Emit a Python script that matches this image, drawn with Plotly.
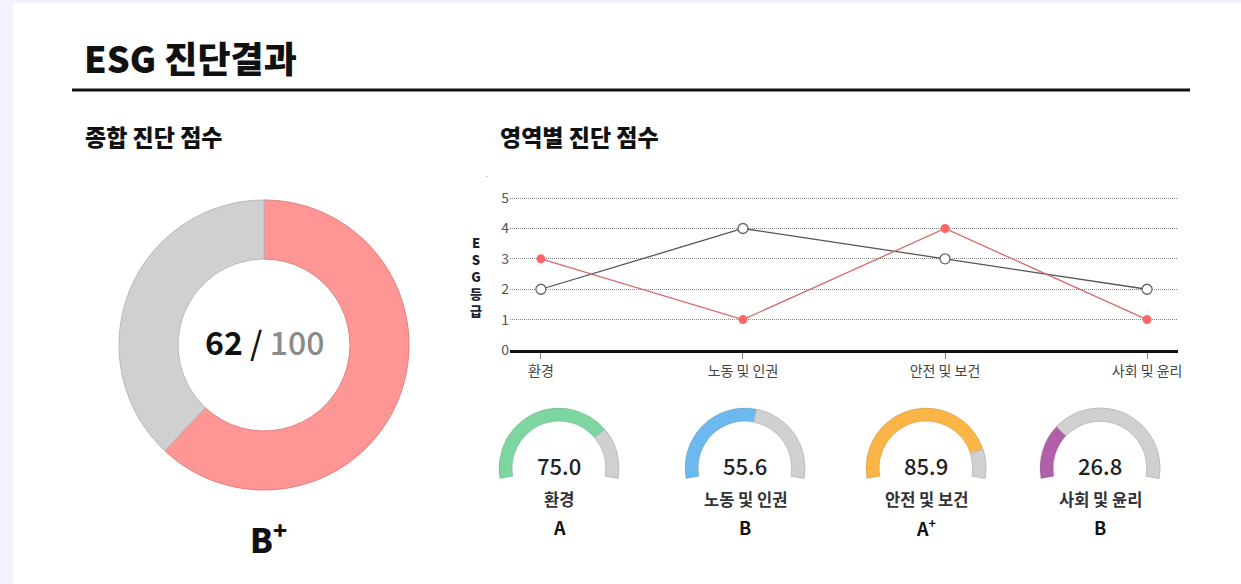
import plotly.graph_objects as go

W, H = 1241, 584
FONT = "Noto Sans CJK KR"

# ---- data ----
categories = ["환경", "노동 및 인권", "안전 및 보건", "사회 및 윤리"]
company_grade = [3, 1, 4, 1]
average_grade = [2, 4, 3, 2]
y_ticks = [0, 1, 2, 3, 4, 5]

total_score = 62
total_max = 100
total_grade = "B<sup>+</sup>"

gauge_scores = [75.0, 55.6, 85.9, 26.8]
gauge_grades = ["A", "B", "A<sup>+</sup>", "B"]
gauge_colors = ["#7dd6a0", "#6bb9ef", "#fbb446", "#b060a8"]

def px(x):
    return x / W

def py(y):
    return 1 - y / H

fig = go.Figure()

# ---- overall donut ----
cx, cy, r = 264, 345, 145
fig.add_trace(go.Pie(
    values=[total_score, total_max - total_score],
    labels=["점수", "잔여"],
    sort=False, direction="clockwise", rotation=0,
    hole=0.593,
    marker=dict(colors=["#ff9696", "#d0d0d0"],
                line=dict(color=["#e08080", "#b8b8b8"], width=1)),
    textinfo="none", hoverinfo="skip", showlegend=False,
    domain=dict(x=[px(cx - r), px(cx + r)], y=[py(cy + r), py(cy - r)]),
))

# ---- gauges (200 degree arcs) ----
gauge_cx = [559, 745, 926, 1100]
gcy, gr = 468, 60
for i, (s, col) in enumerate(zip(gauge_scores, gauge_colors)):
    fig.add_trace(go.Pie(
        values=[s, 100 - s, 80],
        labels=["a", "b", "c"],
        sort=False, direction="clockwise", rotation=260,
        hole=0.78,
        marker=dict(colors=[col, "#d0d0d0", "rgba(0,0,0,0)"],
                    line=dict(color=["rgba(0,0,0,0.12)", "#bdbdbd", "rgba(0,0,0,0)"],
                              width=[1, 1, 0])),
        textinfo="none", hoverinfo="skip", showlegend=False,
        domain=dict(x=[px(gauge_cx[i] - gr), px(gauge_cx[i] + gr)],
                    y=[py(gcy + gr), py(gcy - gr)]),
    ))

# ---- line chart ----
fig.add_trace(go.Scatter(
    x=categories, y=average_grade, mode="lines+markers",
    line=dict(color="#555555", width=1.3),
    marker=dict(size=10, color="white", line=dict(color="#666666", width=1.3)),
    showlegend=False, hoverinfo="skip", cliponaxis=False,
))
fig.add_trace(go.Scatter(
    x=categories, y=company_grade, mode="lines+markers",
    line=dict(color="#d66a6a", width=1.3),
    marker=dict(size=9, color="#ff6666"),
    showlegend=False, hoverinfo="skip", cliponaxis=False,
))

fig.update_layout(
    template="none",
    width=W, height=H,
    autosize=False,
    margin=dict(l=0, r=0, t=0, b=0, pad=0, autoexpand=False),
    paper_bgcolor="#f4f3fb",
    plot_bgcolor="rgba(0,0,0,0)",
    font=dict(family=FONT, color="#222"),
    xaxis=dict(
        domain=[px(510), px(1178)],
        type="category",
        range=[-0.153, 3.153],
        showgrid=False, automargin=False,
        showline=True, linecolor="#111", linewidth=3,
        ticks="outside", ticklen=6, tickcolor="#888", tickwidth=1,
        tickfont=dict(size=14, color="#444"),
        zeroline=False, fixedrange=True,
    ),
    yaxis=dict(
        domain=[py(350), py(189)],
        range=[0, 5.3],
        tickvals=y_ticks, automargin=False,
        showgrid=True, gridcolor="#888888", griddash="1px,1px", gridwidth=1,
        zeroline=False, showline=False,
        tickfont=dict(size=14, color="#555"),
        ticks="", fixedrange=True,
    ),
)

shapes = [
    dict(type="rect", xref="paper", yref="paper",
         x0=px(13), x1=1.02, y0=-0.02, y1=py(3),
         fillcolor="white", line=dict(width=0), layer="below"),
    dict(type="line", xref="paper", yref="paper",
         x0=px(72), x1=px(1190), y0=py(90), y1=py(90),
         line=dict(color="#111", width=3)),
]
fig.update_layout(shapes=shapes)

ann = []
def text(x, y, t, size, color="#222", weight=400, xanchor="center", **kw):
    ann.append(dict(
        x=px(x), y=py(y), xref="paper", yref="paper",
        text=t,
        showarrow=False, xanchor=xanchor, yanchor="middle",
        font=dict(family=FONT, size=size, color=color, weight=weight), **kw))

text(82, 57, "ESG 진단결과", 36, "#111", 900, "left")
text(83, 136, "종합 진단 점수", 23, "#111", 800, "left")
text(498, 136, "영역별 진단 점수", 23, "#111", 800, "left")

text(cx, 341,
     f"<b>{total_score}</b> <span style='color:#111'>/</span> "
     f"<span style='color:#8a8a8a'>{total_max}</span>", 32, "#111", 500)
text(cx + 4, 537, total_grade, 33, "#111", 800)

# y-axis title stacked
text(476, 276, "E<br>S<br>G<br>등<br>급", 13, "#1b2236", 800)
text(487, 174, ".", 8, "#999")

for i in range(4):
    text(gauge_cx[i], 465, f"{gauge_scores[i]:.1f}", 22, "#222", 500)
    text(gauge_cx[i], 499, categories[i], 16.5, "#333", 700)
    text(gauge_cx[i], 527, gauge_grades[i], 18, "#111", 700)

fig.update_layout(annotations=ann)

fig.write_html("out.html")
